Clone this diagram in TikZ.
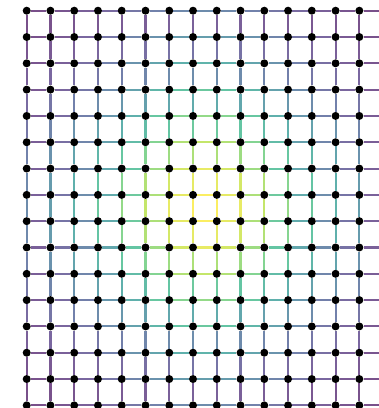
\documentclass[tikz,border=0pt]{standalone}
\usepackage{tikz}
\usetikzlibrary{positioning}

% viridis stops
\definecolor{vir0}{HTML}{440154}
\definecolor{vir1}{HTML}{472D7B}
\definecolor{vir2}{HTML}{3B528B}
\definecolor{vir3}{HTML}{2C728E}
\definecolor{vir4}{HTML}{21918C}
\definecolor{vir5}{HTML}{28AE80}
\definecolor{vir6}{HTML}{5EC962}
\definecolor{vir7}{HTML}{ADDC30}
\definecolor{vir8}{HTML}{FDE725}

\newcommand{\edgecolour}[1]{%
  \pgfmathsetmacro{\edgeval}{min(8*(#1),7.999)}%
  \pgfmathtruncatemacro{\edgelo}{floor(\edgeval)}%
  \pgfmathtruncatemacro{\edgehi}{\edgelo+1}%
  \pgfmathtruncatemacro{\edgepct}{round((\edgeval-\edgelo)*100)}%
  \colorlet{edgecol}{vir\edgehi!\edgepct!vir\edgelo}}

\begin{document}
\begin{tikzpicture}[
    x=1pt, y=1pt,
    vertex/.style={circle, fill=black, inner sep=0pt, minimum size=8pt},
    link/.style={line width=2.1pt, draw=edgecol, draw opacity=0.72}
]
\useasboundingbox (0,0) rectangle (379,408);
\clip (0,0) rectangle (379,408);

% vertices
\foreach \c in {0,...,15}
  \foreach \r in {0,...,15}
    \node[vertex] (v-\c-\r) at ({26.7+23.76*\c}, {397.3-26.31*\r}) {};

% edges, coloured by how central they sit
\foreach \c in {0,...,14}
  \foreach \r in {0,...,15} {
    \pgfmathtruncatemacro{\cn}{\c+1}
    \edgecolour{exp(-(\c-7)^2/21.3-(\r-7.5)^2/46.7)}
    \draw[link] (v-\c-\r) -- (v-\cn-\r);
    \draw[link] (v-\r-\c) -- (v-\r-\cn);
  }
\end{tikzpicture}
\end{document}
